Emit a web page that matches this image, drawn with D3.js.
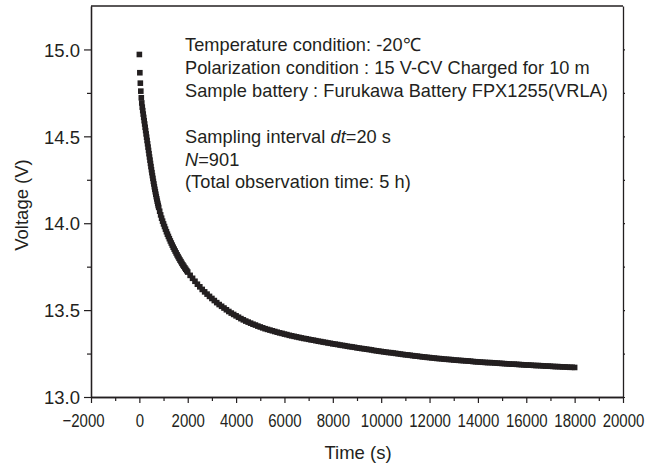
<!DOCTYPE html>
<html>
<head>
<meta charset="utf-8">
<script src="https://cdn.jsdelivr.net/npm/d3@7"></script>
<style>
  body { margin: 0; background: #fff; }
  text { font-family: "Liberation Sans", Arial, Helvetica, sans-serif; fill: #231f20; }
</style>
</head>
<body>
<svg id="chart" width="660" height="468"></svg>
<script>
// Sample times (s): every 20 s while the voltage falls fast, coarser once the decay flattens
const sampleTimes = [].concat(
  d3.range(0, 820, 20),
  d3.range(840, 2000, 40),
  d3.range(2000, 18001, 100)
);

// Terminal voltage (V) at each sample time
const voltage = [
  14.971, 14.866, 14.806, 14.760, 14.722, 14.692, 14.668, 14.648, 14.628, 14.609,
  14.590, 14.571, 14.552, 14.533, 14.514, 14.495, 14.476, 14.457, 14.438, 14.419,
  14.400, 14.381, 14.363, 14.344, 14.326, 14.308, 14.291, 14.274, 14.258, 14.241,
  14.226, 14.210, 14.195, 14.181, 14.167, 14.153, 14.140, 14.127, 14.114, 14.102,
  14.091,
  14.069, 14.048, 14.029, 14.012, 13.996, 13.981, 13.966, 13.951, 13.937, 13.924,
  13.911, 13.898, 13.886, 13.874, 13.862, 13.851, 13.840, 13.829, 13.818, 13.808,
  13.798, 13.788, 13.779, 13.769, 13.760, 13.752, 13.743, 13.735, 13.727,
  13.719, 13.700, 13.683, 13.666, 13.649, 13.634, 13.619, 13.605, 13.592, 13.579,
  13.567, 13.555, 13.543, 13.532, 13.522, 13.512, 13.502, 13.492, 13.483, 13.475,
  13.467, 13.459, 13.451, 13.444, 13.437, 13.431, 13.425, 13.419, 13.414, 13.408,
  13.403, 13.398, 13.393, 13.389, 13.385, 13.381, 13.377, 13.373, 13.369, 13.366,
  13.362, 13.359, 13.355, 13.352, 13.349, 13.346, 13.343, 13.340, 13.337, 13.335,
  13.332, 13.329, 13.327, 13.324, 13.321, 13.319, 13.316, 13.314, 13.311, 13.309,
  13.306, 13.304, 13.302, 13.299, 13.297, 13.295, 13.292, 13.290, 13.288, 13.286,
  13.283, 13.281, 13.279, 13.277, 13.275, 13.273, 13.271, 13.268, 13.266, 13.264,
  13.262, 13.260, 13.258, 13.256, 13.255, 13.253, 13.251, 13.249, 13.247, 13.245,
  13.243, 13.242, 13.240, 13.238, 13.236, 13.235, 13.233, 13.231, 13.230, 13.228,
  13.227, 13.225, 13.224, 13.222, 13.221, 13.220, 13.218, 13.217, 13.216, 13.215,
  13.213, 13.212, 13.211, 13.210, 13.209, 13.208, 13.207, 13.206, 13.204, 13.203,
  13.202, 13.201, 13.200, 13.199, 13.198, 13.198, 13.197, 13.196, 13.195, 13.194,
  13.193, 13.192, 13.191, 13.190, 13.189, 13.189, 13.188, 13.187, 13.186, 13.185,
  13.184, 13.184, 13.183, 13.182, 13.181, 13.181, 13.180, 13.179, 13.178, 13.178,
  13.177, 13.176, 13.175, 13.175, 13.174, 13.173, 13.173, 13.172, 13.171, 13.171,
  13.170
];

// Axis ticks
const xTicks = [-2000, 0, 2000, 4000, 6000, 8000, 10000, 12000, 14000, 16000, 18000, 20000];
const xMinorTicks = [-1000, 1000, 3000, 5000, 7000, 9000, 11000, 13000, 15000, 17000, 19000];
const yTicks = [13.0, 13.5, 14.0, 14.5, 15.0];
const yMinorTicks = [13.25, 13.75, 14.25, 14.75];

// Text block inside the plot
const noteLines = [
  [{ t: "Temperature condition: -20\u2103" }],
  [{ t: "Polarization condition : 15 V-CV Charged for 10 m" }],
  [{ t: "Sample battery : Furukawa Battery FPX1255(VRLA)" }],
  null,
  [{ t: "Sampling interval " }, { t: "dt", i: true }, { t: "=20 s" }],
  [{ t: "N", i: true }, { t: "=901" }],
  [{ t: "(Total observation time: 5 h)" }]
];

const xTitle = "Time (s)";
const yTitle = "Voltage (V)";

const ink = "#231f20";
const plot = { left: 91, right: 623, top: 6, bottom: 397 };

const svg = d3.select("#chart");

const x = d3.scaleLinear().domain([-2000, 20000]).range([plot.left, plot.right]);
const y = d3.scaleLinear().domain([13.0, 15.25]).range([plot.bottom, plot.top]);

function styleAxis(g) {
  g.select(".domain").attr("stroke", ink).attr("stroke-width", 1.3);
  g.selectAll(".tick line").attr("stroke", ink).attr("stroke-width", 1.2);
}

// Bottom axis: minor then major ticks
svg.append("g")
  .attr("transform", `translate(0,${plot.bottom})`)
  .call(d3.axisBottom(x).tickValues(xMinorTicks).tickSize(4).tickSizeOuter(0).tickFormat(""))
  .call(styleAxis);

const gx = svg.append("g")
  .attr("transform", `translate(0,${plot.bottom})`)
  .call(d3.axisBottom(x).tickValues(xTicks).tickSize(6).tickSizeOuter(0).tickFormat(d3.format("d")))
  .call(styleAxis);

const xLabelSqueeze = 0.81;
gx.selectAll(".tick text")
  .attr("y", 30)
  .attr("dy", null)
  .attr("dx", d => d < 0 ? -8 / xLabelSqueeze : 0)
  .attr("font-size", 18.5)
  .attr("transform", `scale(${xLabelSqueeze},1)`)
  .style("fill", ink);

// Left axis: minor then major ticks
svg.append("g")
  .attr("transform", `translate(${plot.left},0)`)
  .call(d3.axisLeft(y).tickValues(yMinorTicks).tickSize(4).tickSizeOuter(0).tickFormat(""))
  .call(styleAxis);

const gy = svg.append("g")
  .attr("transform", `translate(${plot.left},0)`)
  .call(d3.axisLeft(y).tickValues(yTicks).tickSize(7).tickSizeOuter(0).tickFormat(d3.format(".1f")))
  .call(styleAxis);

gy.selectAll(".tick text")
  .attr("x", -11)
  .attr("dy", "0.36em")
  .attr("font-size", 18.5)
  .style("fill", ink);

// Frame: top edge and right edge with small outward ticks
svg.append("line")
  .attr("x1", plot.left).attr("x2", plot.right)
  .attr("y1", plot.top).attr("y2", plot.top)
  .attr("stroke", ink).attr("stroke-width", 1.3);

svg.append("g")
  .attr("transform", `translate(${plot.right},0)`)
  .call(d3.axisRight(y).tickValues(yTicks.concat(yMinorTicks)).tickSize(2).tickSizeOuter(0).tickFormat(""))
  .call(styleAxis);

// Measured points
const points = sampleTimes
  .slice(0, voltage.length)
  .map((t, i) => ({ t, v: voltage[i] }));

const marker = 5.6;
svg.append("g")
  .selectAll("rect")
  .data(points)
  .join("rect")
  .attr("x", d => x(d.t) - marker / 2)
  .attr("y", d => y(d.v) - marker / 2)
  .attr("width", marker)
  .attr("height", marker)
  .attr("fill", ink);

// Notes
const note = svg.append("text")
  .attr("x", 185)
  .attr("y", 51)
  .attr("font-size", 18.2)
  .attr("letter-spacing", 0.05);

let lineY = 51;
noteLines.forEach(parts => {
  if (parts) {
    parts.forEach((p, k) => {
      const span = note.append("tspan").text(p.t);
      if (k === 0) span.attr("x", 185).attr("y", lineY);
      if (p.i) span.attr("font-style", "italic");
    });
  }
  lineY += 22.9;
});

// Axis titles
svg.append("text")
  .attr("x", 358)
  .attr("y", 459)
  .attr("text-anchor", "middle")
  .attr("font-size", 18.5)
  .text(xTitle);

svg.append("text")
  .attr("transform", "translate(28,205) rotate(-90)")
  .attr("text-anchor", "middle")
  .attr("font-size", 18.5)
  .text(yTitle);
</script>
</body>
</html>
